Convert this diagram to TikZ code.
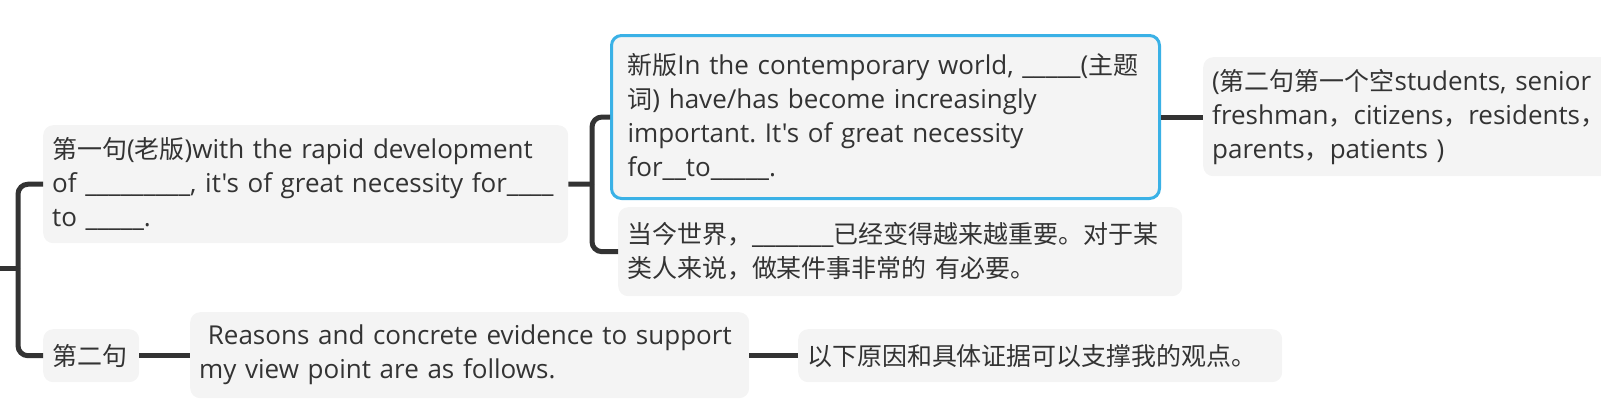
\documentclass[tikz,border=0pt]{standalone}
\usepackage{fontspec}
\newfontfamily\latin{Open Sans}
\newfontfamily\cjk{Noto Sans CJK SC}[Scale=0.96]
\newcommand{\zh}[1]{{\cjk #1}}
\usetikzlibrary{positioning}
\hyphenpenalty=10000
\frenchspacing
\definecolor{boxfill}{HTML}{F4F4F4}
\definecolor{linkgray}{HTML}{333333}
\definecolor{textgray}{HTML}{333333}
\definecolor{selblue}{HTML}{3AB1E6}

\begin{document}
\begin{tikzpicture}[
    x=1pt, y=-1pt,
    box/.style={rounded corners=10pt, fill=boxfill, inner xsep=9pt, inner ysep=0pt,
        align=left, anchor=north west, text=textgray,
        font=\fontsize{26}{34}\selectfont\latin},
    picked/.style={box, draw=selblue, line width=3pt, inner xsep=16pt},
    link/.style={linkgray, line width=5pt, rounded corners=10pt}
]
\useasboundingbox (0,0) rectangle (1601,407);

% first level
\node[box, text width=507pt, minimum height=118pt] (first) at (43,125)
    {\zh{第一句}(\zh{老版})with the rapid development\\
     of \_\_\_\_\_\_\_\_\_, it's of great necessity for\_\_\_\_\\
     to \_\_\_\_\_.};
\node[box, text width=78pt, minimum height=53pt] (second) at (43,329) {\zh{第二句}};

% second level
\node[picked, text width=516pt, minimum height=163pt] (newver) at (610,34)
    {\zh{新版}In the contemporary world, \_\_\_\_\_(\zh{主题}\\
     \zh{词}) have/has become increasingly\\
     important. It's of great necessity\\
     for\_\_to\_\_\_\_\_.};
\node[box, text width=546pt, minimum height=89pt] (today) at (618,207)
    {\zh{当今世界，}\_\_\_\_\_\_\_\zh{已经变得越来越重要。对于某}\\
     \zh{类人来说，做某件事非常的 有必要。}};
\node[box, text width=541pt, minimum height=86pt] (reasons) at (190,312)
    {\ Reasons and concrete evidence to support\\
     my view point are as follows.};

% third level
\node[box, text width=420pt, minimum height=119pt] (blanks) at (1203,57)
    {(\zh{第二句第一个空}students, senior\\
     freshman\zh{，}citizens\zh{，}residents\zh{，}\\
     parents\zh{，}patients )};
\node[box, text width=466pt, minimum height=53pt] (reasonscn) at (798,329)
    {\zh{以下原因和具体证据可以支撑我的观点。}};

% connectors
\coordinate (root) at (0,268);
\coordinate (fork1) at (18,268);
\coordinate (fork2) at (592,184);
\draw[link] (root) -- (fork1);
\draw[link] (fork1) |- (first.west);
\draw[link] (fork1) |- (second.west);
\draw[link] (first.east) -- (fork2);
\draw[link] (fork2) |- (newver.west);
\draw[link] (fork2) |- (today.west);
\draw[link] (newver.east) -- (newver.east -| blanks.west);
\draw[link] (second.east) -- (second.east -| reasons.west);
\draw[link] (reasons.east) -- (reasons.east -| reasonscn.west);
\end{tikzpicture}
\end{document}
